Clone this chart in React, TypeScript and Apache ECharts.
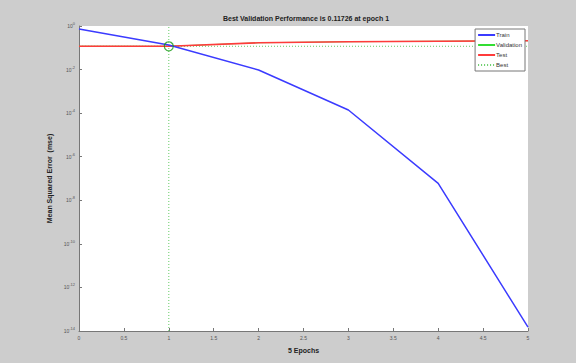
import React, { useEffect, useRef } from "react";
import * as echarts from "echarts";

const epochs = [0, 1, 2, 3, 4, 5];
const trainValues = [0.72, 0.135, 0.0095, 1.4e-4, 6e-8, 1.5e-14];
const validationValues = [0.118, 0.11726, 0.17, 0.19, 0.2, 0.21];
const testValues = [0.118, 0.11726, 0.17, 0.19, 0.2, 0.21];
const bestEpoch = 1;
const bestValue = 0.11726;
const xTicks = [0, 0.5, 1, 1.5, 2, 2.5, 3, 3.5, 4, 4.5, 5];

const font = "Liberation Sans";
const bestColor = "#66cc66";

export default function App() {
  const ref = useRef<HTMLDivElement>(null);
  useEffect(() => {
    document.body.style.margin = "0";
    const chart = echarts.init(ref.current!, null, { renderer: "svg" });
    const toPairs = (vals: number[]) => epochs.map((e, i) => [e, vals[i]]);
    chart.setOption({
      animation: false,
      backgroundColor: "#cdcdcd",
      title: {
        text: "Best Validation Performance is 0.11726 at epoch 1",
        left: 301,
        top: 10,
        textAlign: "center",
        textStyle: { fontFamily: font, fontSize: 7, fontWeight: "bold", color: "#222" },
      },
      legend: {
        orient: "vertical",
        right: 51,
        top: 29,
        backgroundColor: "#fff",
        borderColor: "#777",
        borderWidth: 1,
        padding: [3, 3, 3, 2],
        itemGap: 4,
        itemWidth: 17,
        itemHeight: 6,
        itemStyle: { color: "transparent", borderWidth: 0, opacity: 0 },
        textStyle: { fontFamily: font, fontSize: 6, color: "#333", padding: [0, 0, 0, -4] },
        data: ["Train", "Validation", "Test", "Best"],
      },
      grid: {
        left: 79,
        right: 48,
        top: 26,
        bottom: 32,
        show: true,
        backgroundColor: "#fff",
        borderWidth: 0,
      },
      xAxis: {
        type: "value",
        min: 0,
        max: 5,
        interval: 0.5,
        name: "5 Epochs",
        nameLocation: "middle",
        nameGap: 16,
        nameTextStyle: { fontFamily: font, fontSize: 7, fontWeight: "bold", color: "#222" },
        axisLine: { lineStyle: { color: "#777" } },
        axisTick: { inside: true, length: 3, lineStyle: { color: "#777" } },
        axisLabel: {
          fontFamily: font,
          fontSize: 5,
          color: "#555",
          margin: 4,
          formatter: (v: number) => (xTicks.includes(v) ? String(v) : ""),
        },
        splitLine: { show: false },
      },
      yAxis: {
        type: "log",
        logBase: 10,
        min: 1e-14,
        max: 1,
        interval: 2,
        name: "Mean Squared Error  (mse)",
        nameLocation: "middle",
        nameGap: 13,
        nameTextStyle: { fontFamily: font, fontSize: 7, fontWeight: "bold", color: "#222" },
        axisLine: { show: true, lineStyle: { color: "#777" } },
        axisTick: { show: true, inside: true, length: 3, lineStyle: { color: "#777" } },
        axisLabel: {
          fontFamily: font,
          color: "#555",
          margin: 4,
          formatter: (v: number) => {
            const e = Math.round(Math.log10(v));
            return "{b|10}{s|" + e + "}";
          },
          rich: {
            b: { fontFamily: font, fontSize: 5, color: "#555" },
            s: { fontFamily: font, fontSize: 4, color: "#555", verticalAlign: "bottom", padding: [0, 0, 5, 0] },
          },
        },
        splitLine: { show: false },
      },
      series: [
        {
          name: "Train",
          type: "line",
          data: toPairs(trainValues),
          symbol: "none",
          lineStyle: { color: "#3b3bff", width: 1.5 },
          itemStyle: { color: "#3b3bff" },
          z: 4,
        },
        {
          name: "Validation",
          type: "line",
          data: toPairs(validationValues),
          symbol: "none",
          lineStyle: { color: "#33dd33", width: 0.8 },
          itemStyle: { color: "#33dd33" },
          z: 2,
        },
        {
          name: "Test",
          type: "line",
          data: toPairs(testValues),
          symbol: "none",
          lineStyle: { color: "#ff3b3b", width: 1.6 },
          itemStyle: { color: "#ff3b3b" },
          z: 3,
        },
        {
          name: "Best",
          type: "line",
          data: [[0, bestValue], [5, bestValue]],
          symbol: "none",
          lineStyle: { color: bestColor, width: 1, type: [1, 2] },
          itemStyle: { color: bestColor },
          z: 1,
        },
        {
          name: "Best",
          type: "line",
          data: [[bestEpoch, 1e-14], [bestEpoch, 1]],
          symbol: "none",
          lineStyle: { color: bestColor, width: 1, type: [1, 2] },
          itemStyle: { color: bestColor },
          z: 1,
        },
        {
          name: "BestPoint",
          type: "scatter",
          data: [[bestEpoch, bestValue]],
          symbol: "circle",
          symbolSize: 9,
          itemStyle: { color: "transparent", borderColor: "#119911", borderWidth: 1.2 },
          z: 5,
        },
      ],
    });
    return () => chart.dispose();
  }, []);
  return <div ref={ref} style={{ width: 576, height: 363 }} />;
}
